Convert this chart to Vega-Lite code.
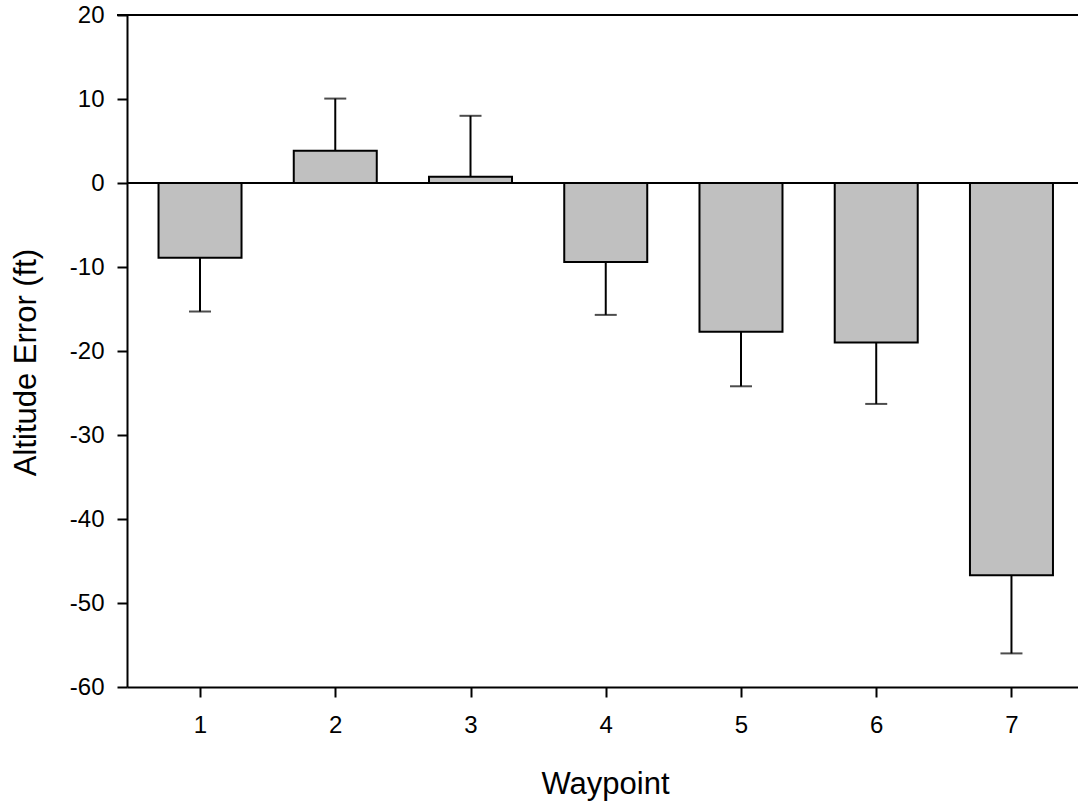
{
  "$schema": "https://vega.github.io/schema/vega-lite/v6.json",
  "width": 951,
  "height": 672,
  "autosize": "none",
  "padding": {"left": 127, "top": 15, "right": 0, "bottom": 116},
  "background": "white",
  "config": {
    "view": {"stroke": null},
    "font": "Liberation Sans",
    "axis": {
      "grid": false,
      "domainColor": "black",
      "domainWidth": 2,
      "tickColor": "black",
      "tickWidth": 2,
      "tickSize": 10,
      "labelColor": "black",
      "labelFont": "Liberation Sans",
      "labelFontSize": 24,
      "titleColor": "black",
      "titleFont": "Liberation Sans",
      "titleFontSize": 31,
      "titleFontWeight": "normal"
    }
  },
  "data": {
    "values": [
      {"waypoint": 1, "error": -8.9, "errEnd": -15.3},
      {"waypoint": 2, "error": 3.85, "errEnd": 10.05},
      {"waypoint": 3, "error": 0.75, "errEnd": 8.0},
      {"waypoint": 4, "error": -9.4, "errEnd": -15.7},
      {"waypoint": 5, "error": -17.7, "errEnd": -24.2},
      {"waypoint": 6, "error": -19.0, "errEnd": -26.3},
      {"waypoint": 7, "error": -46.7, "errEnd": -56.0}
    ]
  },
  "encoding": {
    "x": {
      "field": "waypoint",
      "type": "quantitative",
      "scale": {"domain": [0.497, 7.455], "nice": false, "zero": false},
      "axis": {
        "title": "Waypoint",
        "values": [1, 2, 3, 4, 5, 6, 7],
        "labelExpr": "'' + datum.value",
        "labelPadding": 16,
        "titleX": 478,
        "titleY": 106,
        "titleBaseline": "alphabetic",
        "titleAnchor": "middle"
      }
    }
  },
  "layer": [
    {
      "mark": {"type": "rule", "color": "black", "strokeWidth": 2},
      "encoding": {
        "y": {
          "field": "error",
          "type": "quantitative",
          "scale": {"domain": [-60, 20], "nice": false},
          "axis": {
            "title": "Altitude Error (ft)",
            "values": [-60, -50, -40, -30, -20, -10, 0, 10, 20],
            "labelExpr": "'' + datum.value",
            "labelPadding": 13,
            "titleAngle": -90,
            "titleX": -92,
            "titleY": 347,
            "titleBaseline": "alphabetic",
            "titleAnchor": "middle"
          }
        },
        "y2": {"field": "errEnd"}
      }
    },
    {
      "mark": {"type": "tick", "orient": "horizontal", "color": "black", "size": 22, "thickness": 2},
      "encoding": {
        "y": {"field": "errEnd", "type": "quantitative"}
      }
    },
    {
      "mark": {"type": "bar", "width": 83, "fill": "#c0c0c0", "stroke": "black", "strokeWidth": 2},
      "encoding": {
        "y": {"field": "error", "type": "quantitative"},
        "y2": {"datum": 0}
      }
    },
    {
      "mark": {"type": "rule", "color": "black", "strokeWidth": 2},
      "encoding": {"y": {"datum": 0}, "x": {"value": 0}, "x2": {"value": 951}}
    },
    {
      "mark": {"type": "rule", "color": "black", "strokeWidth": 2},
      "encoding": {"y": {"datum": 20}, "x": {"value": -10}, "x2": {"value": 951}}
    }
  ]
}
